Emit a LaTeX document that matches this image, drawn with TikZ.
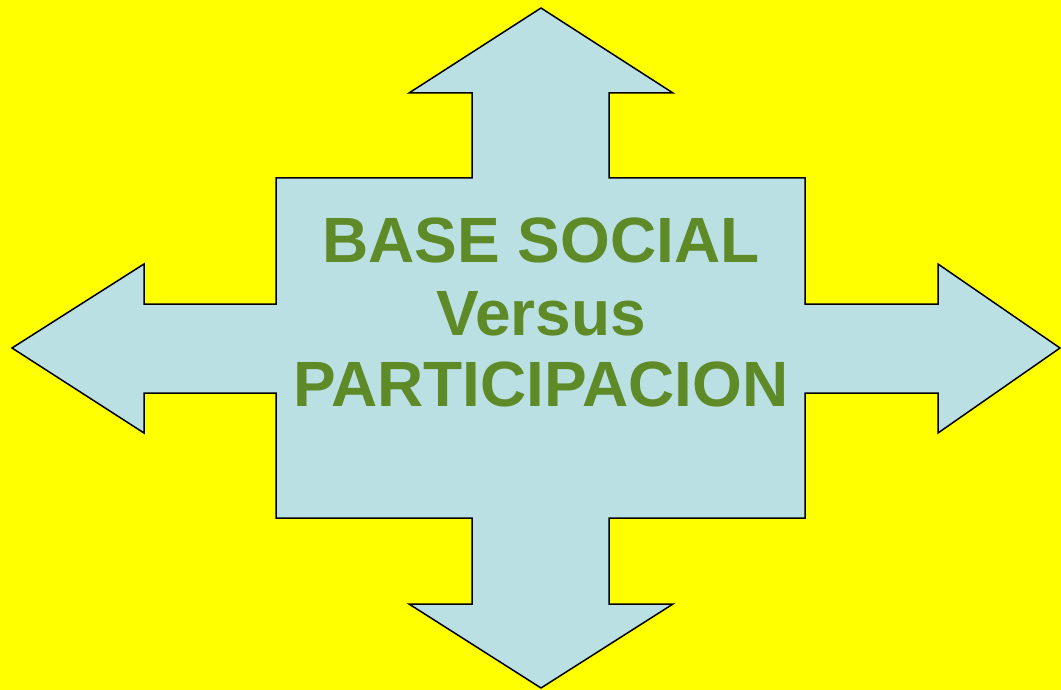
\documentclass[tikz,border=0pt]{standalone}
\usepackage{fontspec}
\setmainfont{Liberation Sans}
\usepackage{tikz}

\definecolor{bgyellow}{HTML}{FFFF00}
\definecolor{arrowblue}{HTML}{BBE0E3}
\definecolor{textgreen}{HTML}{5E8A28}

\begin{document}
\begin{tikzpicture}[x=0.5pt,y=-0.5pt,
	title/.style={text=textgreen,font=\bfseries\fontsize{32}{38}\selectfont,anchor=base,inner sep=0pt}]
	
	\fill[bgyellow] (0,0) rectangle (1061,690);
	\useasboundingbox (0,0) rectangle (1061,690);
	
	\draw[black, line width=0.75pt, fill=arrowblue, line join=miter]
		(541,8) -- (673,93) -- (609,93) -- (609,178) -- (805,178) -- (805,304)
		-- (938,304) -- (938,264) -- (1060,348) -- (938,433) -- (938,393) -- (805,393)
		-- (805,518) -- (609,518) -- (609,604) -- (673,604) -- (541,688) -- (409,604)
		-- (472,604) -- (472,518) -- (276,518) -- (276,393) -- (144,393) -- (144,433)
		-- (12,348) -- (144,264) -- (144,304) -- (276,304) -- (276,178) -- (472,178)
		-- (472,93) -- (409,93) -- cycle;
	
	\node[title] (base)   at (541,263) {BASE SOCIAL};
	\node[title] (versus) at (541,335) {Versus};
	\node[title] (part)   at (541,406) {PARTICIPACION};
	
\end{tikzpicture}
\end{document}
